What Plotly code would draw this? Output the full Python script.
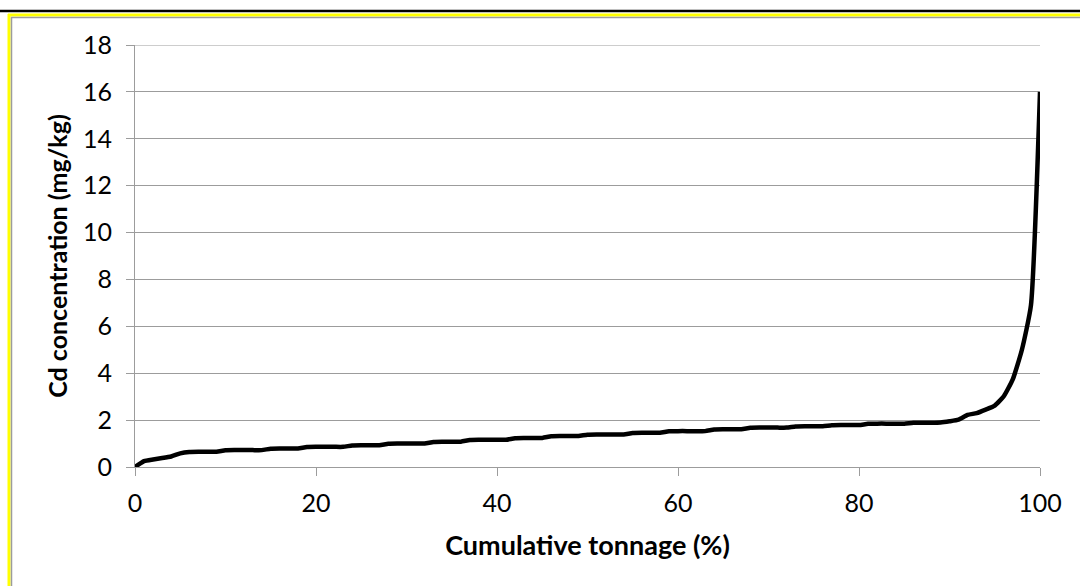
import plotly.graph_objects as go

# Cumulative tonnage (%) and Cd concentration (mg/kg)
tonnage_pct = list(range(0, 101))
cd_mg_kg = [
    0.00, 0.25, 0.32, 0.38, 0.45, 0.58, 0.64, 0.65, 0.65, 0.65,
    0.71, 0.72, 0.72, 0.72, 0.72, 0.78, 0.79, 0.79, 0.79, 0.85,
    0.86, 0.86, 0.86, 0.86, 0.92, 0.93, 0.93, 0.93, 0.99, 1.00,
    1.00, 1.00, 1.00, 1.07, 1.08, 1.08, 1.08, 1.15, 1.16, 1.16,
    1.16, 1.16, 1.23, 1.24, 1.24, 1.24, 1.31, 1.32, 1.32, 1.32,
    1.38, 1.39, 1.39, 1.39, 1.39, 1.45, 1.46, 1.46, 1.46, 1.52,
    1.53, 1.53, 1.53, 1.53, 1.60, 1.61, 1.61, 1.61, 1.67, 1.68,
    1.68, 1.68, 1.68, 1.73, 1.74, 1.74, 1.74, 1.78, 1.79, 1.79,
    1.79, 1.84, 1.85, 1.85, 1.85, 1.85, 1.89, 1.89, 1.89, 1.90,
    1.95, 2.02, 2.22, 2.30, 2.45, 2.62, 3.02, 3.75, 5.00, 6.90,
    16.00,
]

x_ticks = [0, 20, 40, 60, 80, 100]
y_ticks = [0, 2, 4, 6, 8, 10, 12, 14, 16, 18]

W, H = 1080, 586
L, R, T, B = 135, 40, 45, 119
PW, PH = W - L - R, H - T - B


def px(x):
    return (x - L) / PW


def py(y):
    return (H - B - y) / PH


fig = go.Figure(
    go.Scatter(
        x=tonnage_pct,
        y=cd_mg_kg,
        mode="lines",
        line=dict(color="black", width=4.5, shape="spline", smoothing=0.5),
        showlegend=False,
        hoverinfo="skip",
    )
)

grid = "#9c9c9c"
tick_font = dict(family="Lato", size=25, color="black")

fig.update_xaxes(
    range=[0, 100],
    tickvals=x_ticks,
    ticks="outside",
    ticklen=8,
    tickcolor=grid,
    showgrid=False,
    zeroline=False,
    showline=True,
    linecolor=grid,
    linewidth=1,
    tickfont=tick_font,
    ticklabelstandoff=6,
    title=dict(text="Cumulative tonnage (%)",
               font=dict(family="Lato", size=27, color="black", weight="bold"),
               standoff=20),
)
fig.update_yaxes(
    range=[0, 18],
    tickvals=y_ticks,
    ticks="outside",
    ticklen=8,
    tickcolor=grid,
    showgrid=True,
    gridcolor=grid,
    gridwidth=1,
    zeroline=False,
    showline=True,
    linecolor=grid,
    linewidth=1,
    tickfont=tick_font,
    ticklabelstandoff=9,
    title=dict(text="Cd concentration (mg/kg)",
               font=dict(family="Lato", size=25, color="black", weight="bold"),
               standoff=8),
)

# Frame lines around the chart area
frame = [
    dict(x0=px(0), x1=px(W), y0=py(11), y1=py(11), color="black", width=2.5),
    dict(x0=px(8), x1=px(W), y0=py(15), y1=py(15), color="#ffff00", width=3),
    dict(x0=px(9), x1=px(9), y0=py(14), y1=py(H + 5), color="#ffff00", width=3),
    dict(x0=px(11), x1=px(W), y0=py(17.5), y1=py(17.5), color=grid, width=1.5),
    dict(x0=px(11.5), x1=px(11.5), y0=py(17), y1=py(H + 5), color=grid, width=1.5),
]
shapes = [
    dict(type="line", xref="paper", yref="paper",
         x0=f["x0"], x1=f["x1"], y0=f["y0"], y1=f["y1"],
         line=dict(color=f["color"], width=f["width"]))
    for f in frame
]
# Top gridline at the upper end of the value axis
shapes.append(dict(type="line", xref="paper", yref="y", x0=0, x1=1,
                   y0=y_ticks[-1], y1=y_ticks[-1], layer="below",
                   line=dict(color=grid, width=1)))

fig.update_layout(
    shapes=shapes,
    width=W,
    height=H,
    margin=dict(l=L, r=R, t=T, b=B, autoexpand=False),
    paper_bgcolor="white",
    plot_bgcolor="white",
)

fig.write_html("out.html")
